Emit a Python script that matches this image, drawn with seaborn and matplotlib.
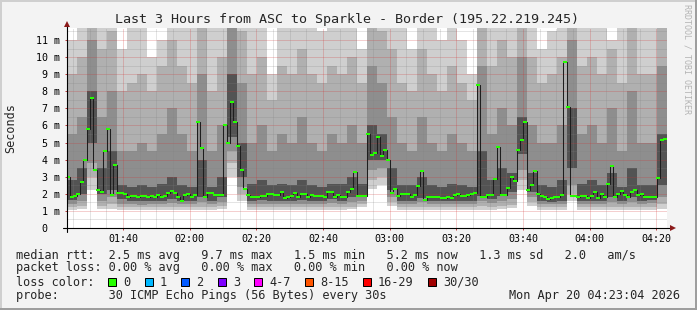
import numpy as np
import pandas as pd
import matplotlib
matplotlib.use("Agg")
import matplotlib.pyplot as plt
import seaborn as sns
from matplotlib.path import Path
from matplotlib.markers import MarkerStyle
from matplotlib.patches import Rectangle

# ------------------------------------------------------------------ data
start_minute = 83 + 4 / 60          # 01:23:04 (minutes of the day)
step_minutes = 1                    # one median value per minute
median_ms = [
    3.0, 1.8, 1.87, 2.0, 2.7, 4.0, 5.8, 7.6, 3.4, 2.2,
    2.1, 4.5, 5.8, 1.95, 3.7, 2.03, 2.03, 2.0, 1.84, 1.9,
    1.85, 1.8, 1.9, 1.9, 1.84, 1.9, 1.8, 1.95, 1.8, 1.9,
    2.03, 2.18, 2.07, 1.8, 1.6, 1.95, 2.0, 1.84, 1.93, 6.2,
    4.7, 1.84, 2.03, 2.03, 1.93, 1.93, 1.93, 6.0, 5.0, 7.4,
    6.2, 4.8, 3.4, 2.3, 1.93, 1.84, 1.8, 1.84, 1.88, 1.88,
    1.97, 1.97, 1.93, 1.93, 2.13, 1.74, 1.84, 1.88, 2.03, 1.8,
    1.97, 1.97, 1.84, 1.93, 1.9, 1.9, 1.9, 1.8, 2.11, 2.11,
    1.84, 1.93, 1.84, 1.84, 2.09, 2.3, 3.3, 1.88, 1.88, 1.9,
    5.5, 4.27, 4.4, 5.3, 4.2, 4.56, 4.0, 2.03, 2.3, 1.88,
    1.97, 1.97, 1.97, 1.84, 1.93, 2.46, 3.35, 1.64, 1.84, 1.84,
    1.84, 1.84, 1.78, 1.78, 1.84, 1.75, 1.93, 1.97, 1.88, 1.88,
    1.93, 1.97, 2.07, 8.36, 1.84, 1.84, 1.95, 1.95, 2.85, 4.75,
    1.93, 1.93, 2.32, 3.0, 2.75, 4.56, 5.15, 6.22, 2.22, 2.5,
    3.35, 2.0, 1.9, 1.82, 1.7, 1.74, 1.84, 1.8, 1.93, 9.7,
    7.1, 1.88, 1.88, 1.8, 1.88, 1.88, 1.74, 1.9, 2.13, 1.74,
    1.97, 1.8, 2.6, 3.6, 1.84, 1.97, 2.16, 1.93, 1.84, 2.1,
    2.2, 1.93, 1.97, 1.84, 1.84, 1.84, 1.84, 2.94, 5.15, 5.2,
]

smoke_bin_minutes = 3               # smoke read in 3-minute columns
smoke_min = [
    1.05, 1.1, 2.2, 1.1, 1.1, 1.05, 1.05, 1.05, 1.05, 1.05,
    1.05, 1.05, 1.05, 1.05, 1.05, 1.1, 3.0, 1.6, 1.05, 1.05,
    1.05, 1.05, 1.05, 1.05, 1.05, 1.05, 1.05, 1.05, 1.1, 1.2,
    2.3, 2.5, 1.3, 1.05, 1.05, 1.05, 1.05, 1.05, 1.05, 1.05,
    1.05, 1.05, 1.05, 1.1, 1.15, 2.2, 1.3, 1.05, 1.05, 1.05,
    1.6, 1.05, 1.05, 1.05, 1.05, 1.05, 1.05, 1.05, 1.05, 1.1,
]
smoke_q10 = [
    1.2, 1.3, 3.0, 1.3, 1.4, 1.2, 1.2, 1.2, 1.2, 1.2,
    1.25, 1.2, 1.2, 1.25, 1.2, 1.3, 3.8, 2.0, 1.2, 1.2,
    1.2, 1.2, 1.2, 1.2, 1.2, 1.2, 1.2, 1.2, 1.25, 1.4,
    2.8, 3.0, 1.5, 1.2, 1.2, 1.25, 1.2, 1.2, 1.2, 1.2,
    1.2, 1.3, 1.2, 1.3, 1.35, 2.8, 1.5, 1.2, 1.2, 1.2,
    2.0, 1.2, 1.2, 1.2, 1.25, 1.2, 1.25, 1.2, 1.2, 1.4,
]
smoke_q25 = [
    1.4, 1.6, 3.8, 1.6, 1.8, 1.4, 1.4, 1.35, 1.4, 1.4,
    1.45, 1.4, 1.4, 1.5, 1.4, 1.5, 4.5, 2.4, 1.4, 1.4,
    1.4, 1.4, 1.4, 1.4, 1.4, 1.4, 1.45, 1.4, 1.5, 1.6,
    3.4, 3.5, 1.8, 1.4, 1.4, 1.5, 1.4, 1.4, 1.4, 1.4,
    1.4, 1.6, 1.45, 1.6, 1.7, 3.4, 1.8, 1.4, 1.4, 1.4,
    2.5, 1.4, 1.4, 1.4, 1.5, 1.4, 1.5, 1.4, 1.45, 1.8,
]
smoke_q40 = [
    1.65, 2.0, 5.0, 2.0, 2.2, 1.7, 1.6, 1.6, 1.6, 1.6,
    1.7, 1.6, 1.6, 1.8, 1.6, 1.8, 5.3, 3.0, 1.6, 1.65,
    1.6, 1.6, 1.6, 1.65, 1.6, 1.6, 1.7, 1.6, 1.8, 1.8,
    4.0, 4.0, 2.2, 1.6, 1.6, 1.75, 1.6, 1.6, 1.6, 1.6,
    1.6, 1.9, 1.7, 1.9, 2.1, 4.3, 2.1, 1.6, 1.55, 1.6,
    3.5, 1.6, 1.6, 1.6, 1.8, 1.6, 1.8, 1.6, 1.65, 2.5,
]
smoke_q60 = [
    2.8, 3.5, 8.0, 3.5, 4.5, 2.5, 2.4, 2.5, 2.4, 2.6,
    3.0, 2.5, 2.4, 4.0, 2.4, 3.0, 9.0, 5.0, 2.6, 2.8,
    2.5, 2.6, 2.5, 2.8, 2.5, 2.4, 2.6, 2.6, 3.0, 2.6,
    6.0, 5.5, 3.5, 2.5, 2.5, 3.0, 2.5, 2.4, 2.6, 2.5,
    2.4, 4.5, 2.8, 3.5, 3.2, 6.5, 3.2, 2.5, 2.4, 2.8,
    7.0, 2.6, 2.8, 2.5, 3.2, 2.4, 3.5, 2.5, 2.5, 5.5,
]
smoke_q75 = [
    5.5, 6.5, 11.0, 6.5, 8.0, 4.5, 4.5, 5.0, 4.5, 5.5,
    7.0, 5.5, 4.5, 9.0, 4.5, 6.0, 12.0, 8.5, 5.0, 6.0,
    4.5, 5.5, 5.0, 6.5, 5.0, 4.5, 5.5, 5.0, 6.0, 5.0,
    9.5, 8.5, 6.5, 5.0, 4.5, 6.5, 5.0, 4.5, 5.5, 5.0,
    4.5, 9.5, 5.5, 7.0, 6.0, 10.0, 6.0, 5.0, 5.0, 6.0,
    11.0, 5.5, 6.0, 5.0, 7.0, 4.5, 8.0, 5.0, 5.0, 9.5,
]
smoke_q90 = [
    9.0, 10.0, 12.5, 10.5, 11.5, 8.0, 8.5, 9.0, 8.0, 9.5,
    11.0, 9.5, 8.5, 12.0, 8.0, 10.0, 12.5, 11.5, 9.0, 10.0,
    7.5, 9.5, 9.0, 10.5, 9.0, 8.5, 9.5, 9.0, 10.0, 8.5,
    12.0, 11.5, 10.5, 8.5, 8.0, 10.5, 9.0, 8.0, 9.5, 8.5,
    7.5, 12.5, 9.5, 11.0, 10.0, 12.5, 10.0, 8.5, 9.0, 10.0,
    12.5, 9.5, 10.0, 9.0, 10.5, 8.5, 12.0, 9.0, 9.0, 12.5,
]
smoke_max = [
    11.0, 12.5, 12.5, 12.5, 12.5, 10.5, 12.0, 12.0, 10.0, 11.0,
    12.5, 12.5, 12.5, 12.5, 12.0, 12.5, 12.5, 12.5, 12.5, 12.5,
    9.0, 12.5, 12.0, 12.5, 12.0, 11.5, 12.5, 12.0, 12.5, 10.5,
    12.5, 12.5, 12.5, 12.0, 10.5, 12.5, 12.0, 11.0, 12.5, 11.0,
    9.0, 12.5, 12.5, 12.5, 12.0, 12.5, 12.0, 10.5, 11.5, 12.5,
    12.5, 12.5, 12.5, 12.0, 11.0, 12.0, 12.5, 12.0, 12.0, 12.5,
]

ytick_values = list(range(0, 12))
ytick_labels = ["0\u00a0\u00a0"] + [f"{v} m" for v in range(1, 12)]
xtick_minutes = [100, 120, 140, 160, 180, 200, 220, 240, 260]
xtick_labels = ["01:40", "02:00", "02:20", "02:40", "03:00",
                "03:20", "03:40", "04:00", "04:20"]

title = "Last 3 Hours from ASC to Sparkle - Border (195.22.219.245)"
ylabel = "Seconds"
stats_rtt = ("median rtt:  2.5 ms avg   9.7 ms max   1.5 ms min   "
             "5.2 ms now   1.3 ms sd   2.0   am/s")
stats_loss = "packet loss: 0.00 % avg   0.00 % max   0.00 % min   0.00 % now"
loss_title = "loss color:"
loss_labels = ["0", "1", "2", "3", "4-7", "8-15", "16-29", "30/30"]
loss_colors = ["#26ff00", "#00b8ff", "#0059ff", "#7e00ff",
               "#ff00ff", "#ff5500", "#ff0000", "#a10000"]
probe_text = "probe:       30 ICMP Echo Pings (56 Bytes) every 30s"
date_text = "Mon Apr 20 04:23:04 2026"
watermark = "RRDTOOL / TOBI OETIKER"

# ------------------------------------------------------------------ style
W, H, DPI = 697, 310, 100
sns.set_theme(style="white")
plt.rcParams["font.family"] = ["DejaVu Sans Mono", "DejaVu Sans"]

fig = plt.figure(figsize=(W / DPI, H / DPI), dpi=DPI, facecolor="#f3f3f3")
L, R, B, T = 66.5, 666.5, 228.0, 28.0
ax = fig.add_axes([L / W, 1 - B / H, (R - L) / W, (B - T) / H])
ax.set_facecolor("white")

span = len(median_ms) * step_minutes
ax.set_xlim(start_minute, start_minute + span)
ax.set_ylim(0, 11.7)

# smoke
nb = len(smoke_min)
edges = start_minute + np.arange(nb + 1) * smoke_bin_minutes


def band(lo, hi, color):
    lo = np.append(lo, lo[-1])
    hi = np.append(hi, hi[-1])
    ax.fill_between(edges, lo, hi, step="post", color=color, lw=0, zorder=1)


band(smoke_min, smoke_max, "#cfcfcf")
band(smoke_q10, smoke_q90, "#b0b0b0")
band(smoke_q25, smoke_q75, "#8e8e8e")
band(smoke_q40, smoke_q60, "#535353")

# grid (drawn over the smoke, like rrdtool)
red_grid = (0.82, 0.19, 0.19, 0.45)
grey_grid = (0.5, 0.5, 0.5, 0.42)
for v in np.arange(0.5, 11.6, 0.5):
    major = float(v).is_integer()
    ax.axhline(v, color=red_grid if major else grey_grid, lw=0.72,
               ls=(0, (1, 1)), zorder=2)
m = int(np.ceil(start_minute / 5) * 5)
while m < start_minute + span:
    ax.axvline(m, color=red_grid if m % 20 == 0 else grey_grid, lw=0.72,
               ls=(0, (1, 1)), zorder=2)
    m += 5

# median line and points
n = len(median_ms)
df = pd.DataFrame({"t": start_minute + (np.arange(n) + 0.5) * step_minutes,
                   "ms": median_ms})
sns.lineplot(data=df, x="t", y="ms", ax=ax, color="#1e1e1e", lw=0.75,
             drawstyle="steps-mid", estimator=None, zorder=3)
box = MarkerStyle(Path([(-1, -0.6), (1, -0.6), (1, 0.6), (-1, 0.6), (-1, -0.6)],
                       closed=True))
sns.scatterplot(data=df, x="t", y="ms", ax=ax, marker=box, s=6.2,
                color=loss_colors[0], linewidth=0, zorder=4)
ax.set_xlabel("")
ax.set_ylabel("")

# axes lines with arrows
for s in ax.spines.values():
    s.set_visible(False)
ax.plot([-4 / (R - L), 1 + 4 / (R - L)], [0, 0], transform=ax.transAxes,
        color="black", lw=0.8, clip_on=False, zorder=5)
ax.plot([0, 0], [-4 / (B - T), 1 + 3 / (B - T)], transform=ax.transAxes,
        color="black", lw=0.8, clip_on=False, zorder=5)
ax.plot([1 + 6.5 / (R - L)], [0], transform=ax.transAxes, marker=">",
        ms=4.2, color="#8b1a1a", mew=0, clip_on=False, zorder=6)
ax.plot([0], [1 + 4.5 / (B - T)], transform=ax.transAxes, marker="^",
        ms=4.2, color="#8b1a1a", mew=0, clip_on=False, zorder=6)

# ticks
ax.set_xticks(xtick_minutes, xtick_labels)
ax.set_yticks(ytick_values, ytick_labels)
ax.tick_params(axis="both", which="major", direction="out", length=1.5,
               width=0.72, color="#c04040", labelsize=7.2, labelcolor="black")
ax.tick_params(axis="y", which="major", pad=3.2)
ax.tick_params(axis="x", which="major", pad=2.5)
ax.tick_params(left=True, bottom=True)

# texts
fig.text(0.498, 1 - 19 / H, title, ha="center", va="center", fontsize=9.6)
fig.text(11 / W, 1 - 128 / H, ylabel, ha="center", va="center",
         rotation=90, fontsize=8.5)
fig.text(687.5 / W, 1 - 59 / H, watermark, ha="center", va="center",
         rotation=270, fontsize=6, color="#b4b4b4")

fs = 8.55
cw = 0.602 * fs / 72 * DPI
x0 = 15.5
rows_y = [255, 268, 282, 296]
fig.text(x0 / W, 1 - rows_y[0] / H, stats_rtt, ha="left", va="center", fontsize=fs)
fig.text(x0 / W, 1 - rows_y[1] / H, stats_loss, ha="left", va="center", fontsize=fs)
fig.text(x0 / W, 1 - rows_y[2] / H, loss_title, ha="left", va="center", fontsize=fs)
bx = x0 + 13 * cw
for lab, col in zip(loss_labels, loss_colors):
    fig.add_artist(Rectangle(((bx) / DPI, (H - rows_y[2] - 4) / DPI), 8 / DPI, 8 / DPI,
                             transform=fig.dpi_scale_trans, facecolor=col,
                             edgecolor="black", lw=0.72))
    fig.text((bx + 15) / W, 1 - rows_y[2] / H, lab, ha="left", va="center", fontsize=fs)
    bx += 15 + (len(lab) + 2) * cw
fig.text(x0 / W, 1 - rows_y[3] / H, probe_text, ha="left", va="center", fontsize=fs)
fig.text(680 / W, 1 - rows_y[3] / H, date_text, ha="right", va="center", fontsize=fs)

# 3D frame
for (x, y, w, h, c) in [(0, H - 2, W, 2, "#cfcfcf"), (0, 0, 2, H, "#cfcfcf"),
                        (0, 0, W, 2, "#9e9e9e"), (W - 2, 0, 2, H, "#9e9e9e")]:
    fig.add_artist(Rectangle((x / DPI, y / DPI), w / DPI, h / DPI,
                             transform=fig.dpi_scale_trans, facecolor=c, lw=0))

fig.savefig("out.png", dpi=DPI, facecolor=fig.get_facecolor())
